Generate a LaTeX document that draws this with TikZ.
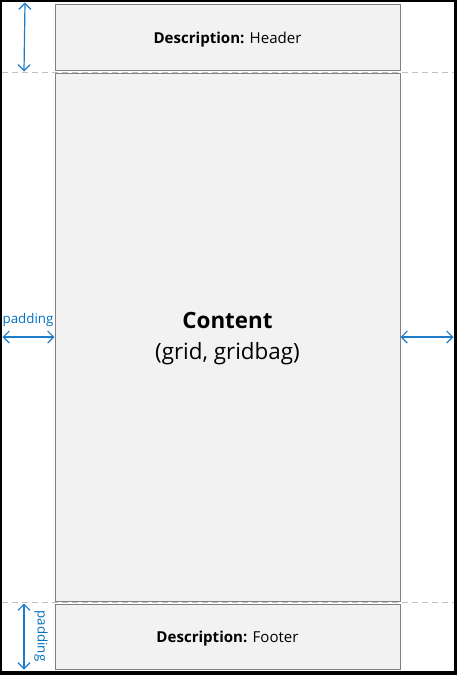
\documentclass[tikz,border=0pt]{standalone}
\usepackage{fontspec}
\setmainfont{Open Sans}
\usetikzlibrary{arrows.meta}
\definecolor{boxfill}{HTML}{F2F2F2}
\definecolor{boxline}{HTML}{808080}
\definecolor{dimblue}{HTML}{1E7CC8}
\definecolor{txtblue}{HTML}{0070C0}
\definecolor{dashgray}{HTML}{C0C0C0}
\begin{document}
\begin{tikzpicture}[x=0.75pt,y=-0.75pt,
  panel/.style={draw=boxline,fill=boxfill,line width=0.75pt,inner sep=0pt},
  dimline/.style={draw=dimblue,line width=0.9pt,{Straight Barb[length=4.5pt,width=9pt]}-{Straight Barb[length=4.5pt,width=9pt]}},
  guide/.style={draw=dashgray,line width=0.75pt,dash pattern=on 4.5pt off 3pt},
  lbl/.style={font=\fontsize{11.3pt}{13pt}\selectfont,text=black},
  padlbl/.style={font=\fontsize{10pt}{12pt}\selectfont,text=txtblue,inner sep=0pt}]
\useasboundingbox (0,0) rectangle (457,675);
% frame
\fill[black] (0,0) rectangle (457,675);
\fill[white] (2,2) rectangle (453.5,670.5);
% guides
\draw[guide] (2,72) -- (453.5,72);
\draw[guide] (2,602.5) -- (453.5,602.5);
% panels
\node[panel,minimum width=345pt*0.75,minimum height=66pt*0.75] (header) at (227.5,37) {};
\node[panel,minimum width=345pt*0.75,minimum height=528pt*0.75] (content) at (227.5,337) {};
\node[panel,minimum width=345pt*0.75,minimum height=65pt*0.75] (footer) at (227.5,636.5) {};
\node[lbl] (htext) at ([yshift=-2.2pt]header.center) {\textbf{Description:} Header};
\node[lbl] (ftext) at ([yshift=-1.5pt]footer.center) {\textbf{Description:} Footer};
\node[font=\fontsize{16.8pt}{23.25pt}\selectfont,align=center,inner sep=0pt] (ctext) at (227.5,339) {\textbf{Content}\\(grid, gridbag)};
% dimension arrows
\coordinate (t1) at (25,2.5);
\coordinate (t2) at (24,71.5);
\draw[dimline] (t1) -- (t2);
\coordinate (l1) at (2.5,337);
\draw[dimline] (l1) -- (content.west);
\node[padlbl] (lpad) at (28,320) {padding};
\coordinate (r2) at (453.5,337);
\draw[dimline] (content.east) -- (r2);
\coordinate (b1) at (24,603.5);
\coordinate (b2) at (24,669.5);
\draw[dimline] (b1) -- (b2);
\node[padlbl,rotate=-90] (bpad) at (41,636) {padding};
\end{tikzpicture}
\end{document}
